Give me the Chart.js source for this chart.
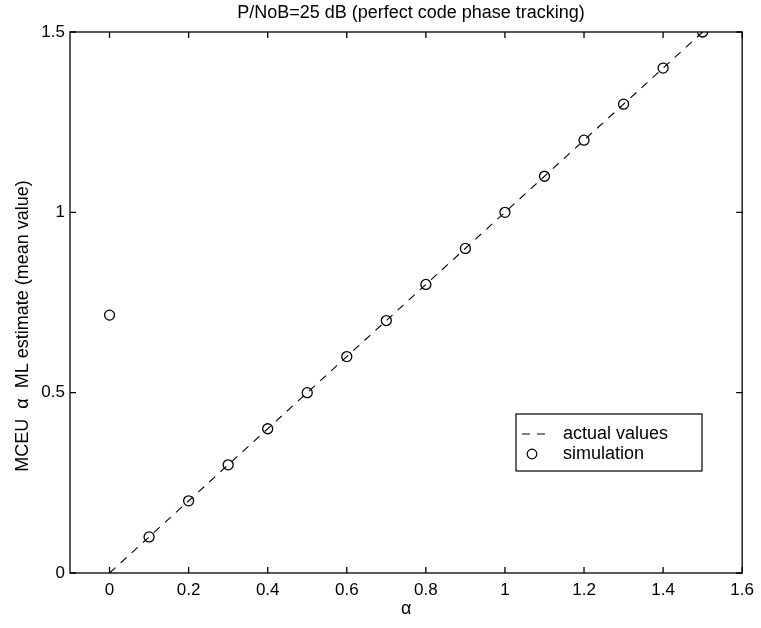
<!DOCTYPE html>
<html>
<head>
<meta charset="utf-8">
<script src="https://cdn.jsdelivr.net/npm/chart.js@4.4.1/dist/chart.umd.min.js"></script>
<style>
  html, body { margin: 0; padding: 0; background: #fff; }
  #wrap { width: 761px; height: 628px; position: relative; }
</style>
</head>
<body>
<div id="wrap"><canvas id="c" width="761" height="628"></canvas></div>
<script>
// Values of alpha used in the simulation runs
const alphaValues = [0, 0.1, 0.2, 0.3, 0.4, 0.5, 0.6, 0.7, 0.8, 0.9, 1.0, 1.1, 1.2, 1.3, 1.4, 1.5];
// Mean of the MCEU alpha ML estimate at each alpha
const simulatedMean = [0.715, 0.1, 0.2, 0.3, 0.4, 0.5, 0.6, 0.7, 0.8, 0.9, 1.0, 1.1, 1.2, 1.3, 1.4, 1.5];
// Reference line: estimate equal to the actual value
const actualAlpha = [0, 1.5];
const actualValue = [0, 1.5];

const xTickValues = [0, 0.2, 0.4, 0.6, 0.8, 1, 1.2, 1.4, 1.6];
const xTickLabels = ['0', '0.2', '0.4', '0.6', '0.8', '1', '1.2', '1.4', '1.6'];
const yTickValues = [0, 0.5, 1, 1.5];
const yTickLabels = ['0', '0.5', '1', '1.5'];

const titleText = 'P/NoB=25 dB (perfect code phase tracking)';
const xLabelText = '\u03B1';
const yLabelText = 'MCEU  \u03B1  ML estimate (mean value)';

const FONT = '"Liberation Sans", Arial, Helvetica, sans-serif';

// Box, inward ticks on all four sides, title, axis labels and legend
const framePlugin = {
  id: 'frame',
  afterDraw(chart) {
    const ctx = chart.ctx;
    const a = chart.chartArea;
    const xs = chart.scales.x, ys = chart.scales.y;
    const tl = 6;
    ctx.save();
    ctx.strokeStyle = '#000';
    ctx.lineWidth = 1.3;
    ctx.strokeRect(a.left, a.top, a.right - a.left, a.bottom - a.top);
    ctx.beginPath();
    xTickValues.forEach(v => {
      const px = xs.getPixelForValue(v);
      ctx.moveTo(px, a.bottom); ctx.lineTo(px, a.bottom - tl);
      ctx.moveTo(px, a.top); ctx.lineTo(px, a.top + tl);
    });
    yTickValues.forEach(v => {
      const py = ys.getPixelForValue(v);
      ctx.moveTo(a.left, py); ctx.lineTo(a.left + tl, py);
      ctx.moveTo(a.right, py); ctx.lineTo(a.right - tl, py);
    });
    ctx.stroke();

    ctx.fillStyle = '#000';
    ctx.textAlign = 'center';
    ctx.textBaseline = 'alphabetic';
    ctx.font = '18px ' + FONT;
    ctx.fillText(titleText, 411, 18);

    ctx.font = '18px ' + FONT;
    ctx.fillText(xLabelText, (a.left + a.right) / 2, 614);

    ctx.save();
    ctx.translate(28, 326);
    ctx.rotate(-Math.PI / 2);
    ctx.font = '18px ' + FONT;
    ctx.fillText(yLabelText, 0, 0);
    ctx.restore();

    // Legend
    const ds = chart.data.datasets;
    const lx = 516, ly = 414, lw = 186, lh = 57;
    ctx.fillStyle = '#fff';
    ctx.fillRect(lx, ly, lw, lh);
    ctx.lineWidth = 1.2;
    ctx.strokeRect(lx, ly, lw, lh);
    ctx.fillStyle = '#000';
    ctx.font = '18px ' + FONT;
    ctx.textAlign = 'left';
    ctx.textBaseline = 'middle';
    const row1 = ly + 20, row2 = ly + 40;
    ctx.save();
    ctx.lineWidth = 1;
    ctx.setLineDash([8, 7]);
    ctx.beginPath();
    ctx.moveTo(lx + 6, row1); ctx.lineTo(lx + 36, row1);
    ctx.stroke();
    ctx.restore();
    ctx.fillText(ds[0].label, lx + 47, row1);
    ctx.beginPath();
    ctx.lineWidth = 1.2;
    ctx.arc(lx + 16, row2, 4.8, 0, Math.PI * 2);
    ctx.stroke();
    ctx.fillText(ds[1].label, lx + 47, row2);
    ctx.restore();
  }
};

new Chart(document.getElementById('c'), {
  type: 'scatter',
  data: {
    datasets: [
      {
        label: 'actual values',
        data: actualAlpha.map((x, i) => ({ x: x, y: actualValue[i] })),
        showLine: true,
        borderColor: '#000',
        borderWidth: 1.1,
        borderDash: [8, 7],
        pointRadius: 0,
        fill: false
      },
      {
        label: 'simulation',
        data: alphaValues.map((x, i) => ({ x: x, y: simulatedMean[i] })),
        showLine: false,
        pointStyle: 'circle',
        pointRadius: 5,
        pointBorderWidth: 1.3,
        borderColor: '#000',
        backgroundColor: 'rgba(0,0,0,0)',
        pointBackgroundColor: 'rgba(0,0,0,0)'
      }
    ]
  },
  options: {
    responsive: false,
    animation: false,
    devicePixelRatio: 1,
    layout: { padding: { left: 0, top: 32, right: 13, bottom: 0 } },
    plugins: {
      legend: { display: false },
      title: { display: false },
      tooltip: { enabled: false }
    },
    scales: {
      x: {
        type: 'linear',
        min: -0.1,
        max: 1.6,
        afterBuildTicks: s => { s.ticks = xTickValues.map(v => ({ value: v })); },
        afterFit: s => { s.height = 55; },
        grid: { display: false, drawTicks: false, tickLength: 0 },
        border: { display: false },
        ticks: {
          autoSkip: false,
          maxRotation: 0,
          padding: 7,
          color: '#000',
          font: { family: FONT, size: 17 },
          callback: (v) => { const i = xTickValues.indexOf(v); return i >= 0 ? xTickLabels[i] : ''; }
        }
      },
      y: {
        type: 'linear',
        min: 0,
        max: 1.5,
        afterBuildTicks: s => { s.ticks = yTickValues.map(v => ({ value: v })); },
        afterFit: s => { s.width = 70; },
        grid: { display: false, drawTicks: false, tickLength: 0 },
        border: { display: false },
        ticks: {
          autoSkip: false,
          padding: 5,
          color: '#000',
          font: { family: FONT, size: 17 },
          callback: (v) => { const i = yTickValues.indexOf(v); return i >= 0 ? yTickLabels[i] : ''; }
        }
      }
    }
  },
  plugins: [framePlugin]
});
</script>
</body>
</html>
